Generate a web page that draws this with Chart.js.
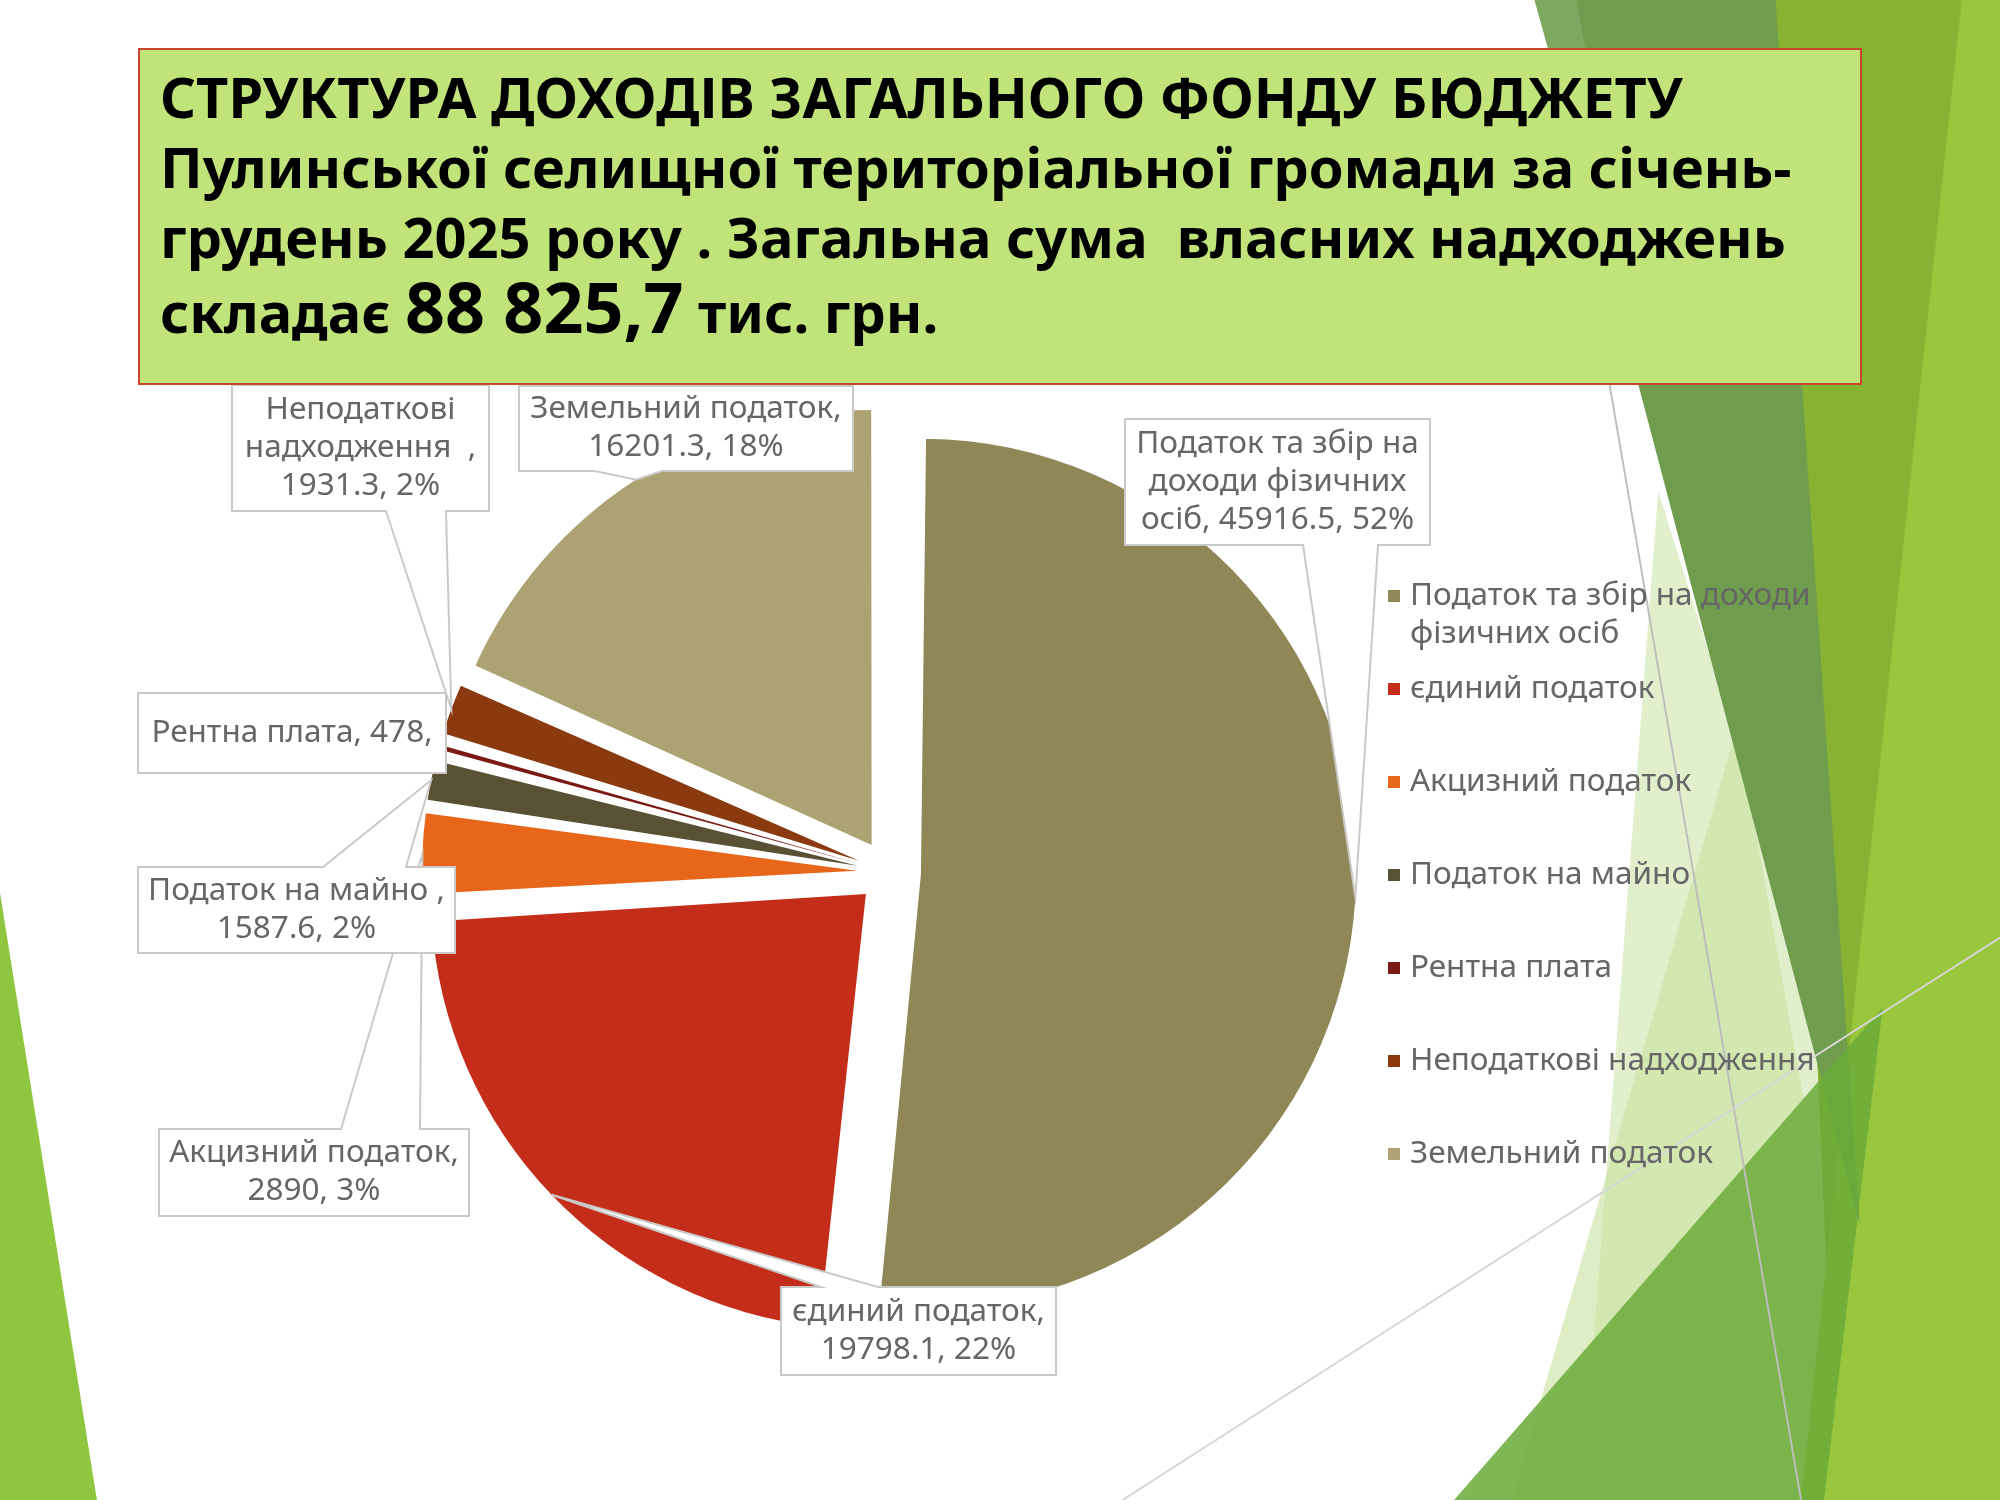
<!DOCTYPE html>
<html lang="uk">
<head>
<meta charset="utf-8">
<title>Структура доходів</title>
<script src="https://cdn.jsdelivr.net/npm/chart.js@4.4.1/dist/chart.umd.min.js"></script>
<style>
  html, body { margin: 0; padding: 0; background: #fff; }
  #slide { position: relative; width: 2000px; height: 1500px; overflow: hidden; background: #fff; }
  #bg { position: absolute; left: 0; top: 0; width: 2000px; height: 1500px; }
  #chartWrap { position: absolute; left: 0; top: 0; width: 2000px; height: 1500px; }
  #title {
    position: absolute; left: 138px; top: 48px; width: 1724px; height: 337px;
    box-sizing: border-box; background: #c1e47a; border: 2px solid #c8462b;
    padding: 11px 0 0 20px; z-index: 2;
    font-family: "Noto Sans", sans-serif; font-weight: bold; font-size: 56px;
    line-height: 70px; color: #000; white-space: pre;
  }
  #title .big { font-size: 70px; line-height: 70px; }
</style>
</head>
<body>
<div id="slide">
  <svg id="bg" viewBox="0 0 1568 1176" preserveAspectRatio="none">
    <polygon points="0,700 76,1176 0,1176" fill="#8fc640"/>
    <polygon points="1300,385 1462,900 1420,1176 1240,1176" fill="#e2efcd"/>
    <polygon points="1362,570 1470,1176 1185,1176" fill="#c9e19c" opacity="0.6"/>
    <polygon points="1388,0 1568,0 1568,1176 1440,1176" fill="#86b332"/>
    <polygon points="1538,0 1568,0 1568,1176 1412,1176" fill="#98c63d"/>
    <polygon points="1205,0 1392,0 1458,960" fill="#6f9d4d"/>
    <polygon points="1203,0 1236,0 1292,302 1287,302" fill="#7ca95f"/>
    <polygon points="1140,1176 1476,790 1430,1176" fill="#6aaa38" opacity="0.85"/>
    <line x1="1262" y1="302" x2="1412" y2="1176" stroke="#bdbdbd" stroke-width="1.5"/>
    <line x1="880" y1="1176" x2="1568" y2="735" stroke="#d6d6d6" stroke-width="1.5"/>
  </svg>
  <div id="chartWrap"><canvas id="pie"></canvas></div>
  <div id="title">СТРУКТУРА ДОХОДІВ ЗАГАЛЬНОГО ФОНДУ БЮДЖЕТУ
Пулинської селищної територіальної громади за січень-
грудень 2025 року . Загальна сума  власних надходжень
складає <span class="big">88 825,7</span> тис. грн.</div>
</div>

<script>
// --- data ---
const categories = [
  'Податок та збір на доходи фізичних осіб',
  'єдиний податок',
  'Акцизний податок',
  'Податок на майно',
  'Рентна плата',
  'Неподаткові надходження',
  'Земельний податок'
];
const revenues = [45916.5, 19798.1, 2890, 1587.6, 478, 1931.3, 16201.3];
const sliceColors = ['#908756', '#c32d19', '#e8661a', '#585133', '#7b1a14', '#8a3a0e', '#ada272'];

// data label text, broken as on the slide
const labelLines = [
  ['Податок та збір на', 'доходи фізичних', 'осіб, 45916.5, 52%'],
  ['єдиний податок,', '19798.1, 22%'],
  ['Акцизний податок,', '2890, 3%'],
  ['Податок на майно ,', '1587.6, 2%'],
  ['Рентна плата, 478,'],
  ['Неподаткові', 'надходження  ,', '1931.3, 2%'],
  ['Земельний податок,', '16201.3, 18%']
];

// callout boxes: rect + where the pointer leaves the box
const calloutBoxes = [
  { x: 1125, y: 419, w: 305, h: 126, side: 'bottom', base: [1303, 1378] },
  { x: 781, y: 1287, w: 275, h: 88, side: 'top', base: [821, 878] },
  { x: 159, y: 1129, w: 310, h: 87, side: 'top', base: [341, 420] },
  { x: 138, y: 867, w: 317, h: 86, side: 'top', base: [323, 406] },
  { x: 138, y: 693, w: 308, h: 80, side: null },
  { x: 232, y: 385, w: 257, h: 126, side: 'bottom', base: [386, 446] },
  { x: 519, y: 386, w: 334, h: 85, side: 'bottom', base: [595, 662] }
];

const pieRadius = 435;
const explode = 32;
const textFont = '31.5px "Noto Sans", sans-serif';
const textColor = '#666666';

// keep every slice the same radius after the offset shift
const evenRadius = {
  id: 'evenRadius',
  beforeDatasetDraw(chart, args) {
    args.meta.data.forEach(arc => {
      const circ = arc.endAngle - arc.startAngle;
      const fix = 1 - Math.sin(Math.min(Math.PI, circ));
      arc.outerRadius = pieRadius - explode * fix;
    });
  }
};

const callouts = {
  id: 'callouts',
  afterDatasetsDraw(chart) {
    const ctx = chart.ctx;
    const arcs = chart.getDatasetMeta(0).data;
    ctx.save();
    arcs.forEach((arc, i) => {
      const b = calloutBoxes[i];
      const mid = (arc.startAngle + arc.endAngle) / 2;
      const tipX = arc.x + Math.cos(mid) * (explode + pieRadius);
      const tipY = arc.y + Math.sin(mid) * (explode + pieRadius);
      const r = b.x + b.w, btm = b.y + b.h;

      ctx.beginPath();
      if (b.side === 'top') {
        ctx.moveTo(b.x, b.y);
        ctx.lineTo(b.base[0], b.y);
        ctx.lineTo(tipX, tipY);
        ctx.lineTo(b.base[1], b.y);
        ctx.lineTo(r, b.y);
        ctx.lineTo(r, btm);
        ctx.lineTo(b.x, btm);
      } else if (b.side === 'bottom') {
        ctx.moveTo(b.x, b.y);
        ctx.lineTo(r, b.y);
        ctx.lineTo(r, btm);
        ctx.lineTo(b.base[1], btm);
        ctx.lineTo(tipX, tipY);
        ctx.lineTo(b.base[0], btm);
        ctx.lineTo(b.x, btm);
      } else {
        ctx.rect(b.x, b.y, b.w, b.h);
      }
      ctx.closePath();
      ctx.fillStyle = '#ffffff';
      ctx.fill();
      ctx.lineWidth = 2;
      ctx.strokeStyle = '#c9c9c9';
      ctx.lineJoin = 'miter';
      ctx.stroke();

      const lines = labelLines[i];
      const lh = 38;
      ctx.font = textFont;
      ctx.fillStyle = textColor;
      ctx.textAlign = 'center';
      ctx.textBaseline = 'middle';
      const cy = b.y + b.h / 2 - (lines.length - 1) * lh / 2;
      lines.forEach((t, k) => ctx.fillText(t, b.x + b.w / 2, cy + k * lh));
    });
    ctx.restore();
  }
};

// legend on the right, drawn from the chart's own labels and colours
const legendBox = { x: 1388, top: 596, step: 93, sq: 12, gap: 10, lh: 38, maxW: 450 };
const sideLegend = {
  id: 'sideLegend',
  afterDraw(chart) {
    const ctx = chart.ctx;
    const ds = chart.data.datasets[0];
    ctx.save();
    ctx.font = textFont;
    ctx.textAlign = 'left';
    ctx.textBaseline = 'middle';
    chart.data.labels.forEach((name, i) => {
      const y = legendBox.top + i * legendBox.step;
      ctx.fillStyle = ds.backgroundColor[i];
      ctx.fillRect(legendBox.x, y - legendBox.sq / 2, legendBox.sq, legendBox.sq);
      // wrap words
      const words = name.split(' ');
      const lines = [];
      let cur = '';
      words.forEach(w => {
        const test = cur ? cur + ' ' + w : w;
        if (cur && ctx.measureText(test).width > legendBox.maxW) {
          lines.push(cur);
          cur = w;
        } else {
          cur = test;
        }
      });
      lines.push(cur);
      ctx.fillStyle = '#666666';
      lines.forEach((t, k) => ctx.fillText(t, legendBox.x + legendBox.sq + legendBox.gap, y + k * legendBox.lh));
    });
    ctx.restore();
  }
};

new Chart(document.getElementById('pie'), {
  type: 'pie',
  data: {
    labels: categories,
    datasets: [{
      data: revenues,
      backgroundColor: sliceColors,
      borderWidth: 0,
      offset: explode * 4
    }]
  },
  options: {
    responsive: true,
    maintainAspectRatio: false,
    animation: false,
    radius: pieRadius,
    layout: { padding: { left: 0, right: 222, top: 244, bottom: 0 } },
    plugins: {
      legend: { display: false },
      tooltip: { enabled: false }
    }
  },
  plugins: [evenRadius, callouts, sideLegend]
});
</script>
</body>
</html>
